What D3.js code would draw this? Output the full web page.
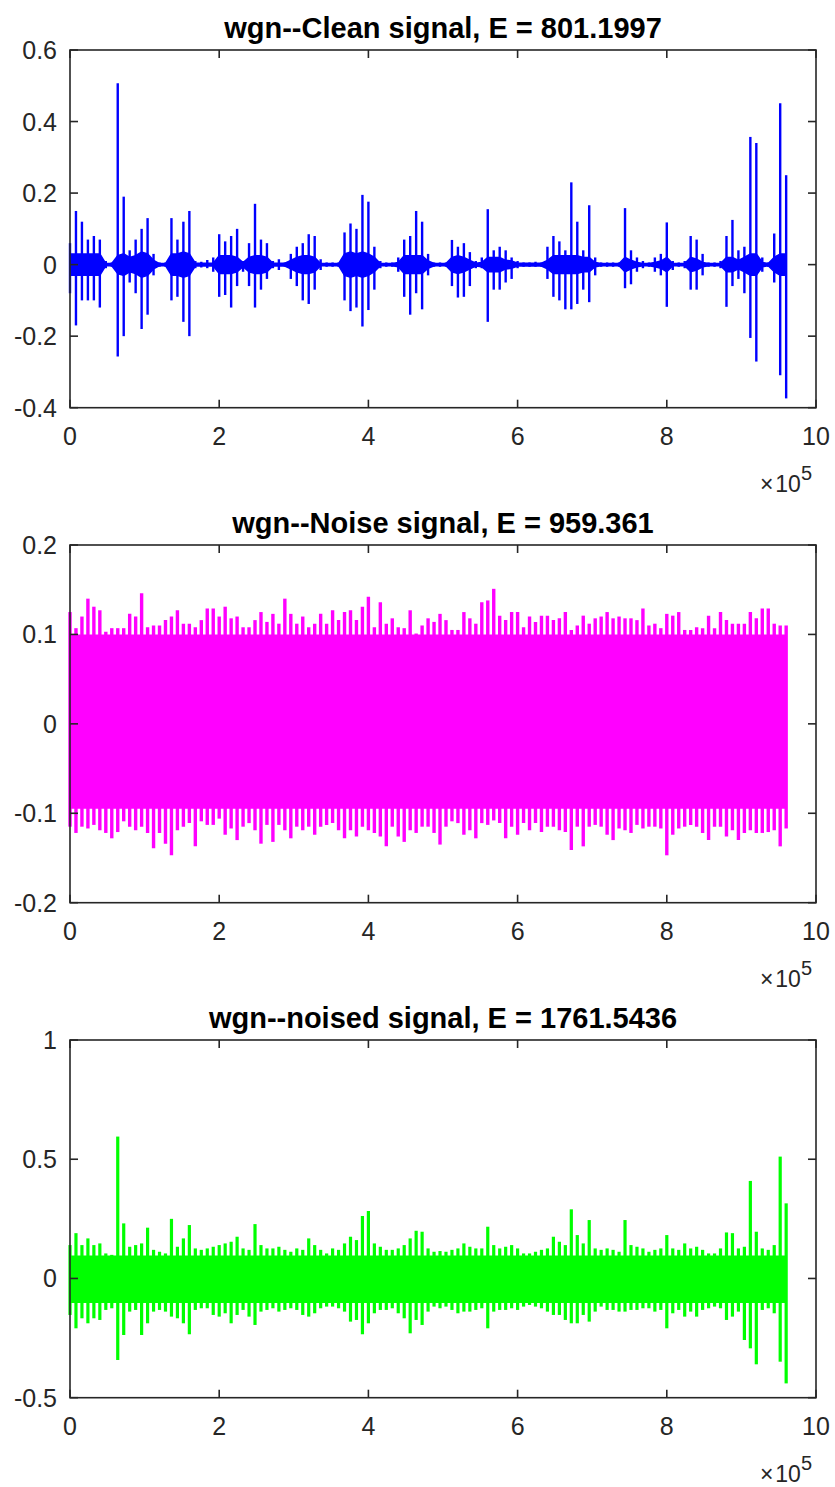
<!DOCTYPE html>
<html>
<head>
<meta charset="utf-8">
<script src="https://cdn.jsdelivr.net/npm/d3@7"></script>
<style>
  body { margin: 0; background: #fff; }
  svg { display: block; font-family: "Liberation Sans", Arial, Helvetica, sans-serif; }
</style>
</head>
<body>
<svg width="835" height="1487"></svg>
<script>
const width = 835, height = 1487;
const svg = d3.select("svg");

// samples between envelope points (read every ~6 px of the picture)
const sampleStep = 8000;
const xTicks = [0, 2, 4, 6, 8, 10];   // x 10^5

// clean signal: peak envelope and dense core half-amplitude
const cleanHi = [
  .06,.15,.12,.07,.08,.07,.01,.006,.507,.19,
  .04,.07,.10,.13,.03,.006,.006,.13,.07,.12,
  .15,.01,.008,.013,.02,.085,.065,.08,.10,.01,
  .06,.17,.07,.06,.01,.015,.006,.03,.05,.06,
  .085,.08,.015,.006,.006,.006,.09,.115,.10,.195,
  .176,.05,.01,.006,.006,.02,.07,.08,.15,.12,
  .03,.006,.006,.006,.069,.05,.06,.035,.01,.02,
  .155,.04,.05,.04,.02,.01,.006,.006,.008,.006,
  .05,.08,.065,.04,.23,.12,.04,.166,.02,.006,
  .006,.006,.006,.158,.04,.02,.01,.006,.02,.03,
  .118,.01,.006,.01,.08,.07,.03,.006,.006,.01,
  .08,.125,.04,.05,.357,.34,.02,.006,.087,.451,
  .25
];
const cleanLo = [
  -.08,-.17,-.10,-.10,-.10,-.12,-.01,-.006,-.257,-.20,
  -.05,-.08,-.18,-.14,-.03,-.006,-.006,-.10,-.09,-.16,
  -.20,-.01,-.008,-.01,-.02,-.09,-.085,-.12,-.06,-.02,
  -.06,-.12,-.07,-.04,-.01,-.015,-.006,-.04,-.06,-.10,
  -.11,-.07,-.015,-.006,-.006,-.006,-.10,-.13,-.12,-.173,
  -.127,-.07,-.01,-.006,-.006,-.02,-.09,-.14,-.08,-.125,
  -.03,-.006,-.006,-.006,-.06,-.092,-.09,-.06,-.01,-.01,
  -.16,-.07,-.07,-.05,-.04,-.01,-.006,-.006,-.006,-.006,
  -.04,-.09,-.10,-.125,-.125,-.11,-.07,-.105,-.03,-.006,
  -.006,-.006,-.006,-.066,-.055,-.02,-.01,-.006,-.02,-.03,
  -.118,-.015,-.006,-.01,-.07,-.07,-.03,-.006,-.006,-.01,
  -.118,-.06,-.04,-.08,-.205,-.271,-.02,-.006,-.05,-.309,
  -.374
];
const cleanCore = [
  .03,.03,.03,.03,.03,.03,.003,.003,.025,.03,
  .02,.025,.035,.03,.012,.003,.003,.03,.03,.035,
  .03,.004,.004,.004,.004,.025,.025,.025,.02,.006,
  .02,.025,.025,.02,.004,.004,.004,.012,.02,.025,
  .025,.02,.003,.003,.003,.003,.03,.035,.03,.035,
  .03,.02,.003,.003,.003,.006,.025,.025,.025,.025,
  .01,.003,.003,.003,.02,.025,.02,.012,.004,.006,
  .02,.02,.02,.012,.01,.004,.004,.004,.004,.004,
  .012,.025,.025,.025,.025,.025,.02,.02,.006,.003,
  .003,.003,.003,.02,.012,.006,.003,.003,.006,.01,
  .02,.003,.003,.003,.02,.015,.006,.003,.003,.003,
  .02,.02,.012,.02,.03,.03,.006,.003,.02,.03,
  .03
];

// white gaussian noise
const noiseHi = [
  .125,.107,.12,.14,.131,.127,.103,.107,.107,.107,
  .123,.12,.146,.108,.11,.11,.116,.12,.127,.112,
  .112,.108,.116,.129,.129,.12,.131,.118,.12,.108,
  .108,.116,.125,.114,.123,.112,.14,.123,.112,.12,
  .108,.112,.123,.112,.127,.116,.125,.127,.116,.131,
  .142,.108,.136,.112,.118,.108,.107,.127,.101,.11,
  .118,.114,.123,.116,.105,.105,.125,.118,.112,.136,
  .138,.151,.121,.116,.125,.125,.108,.12,.114,.121,
  .121,.116,.118,.125,.105,.11,.121,.112,.118,.12,
  .125,.118,.12,.118,.118,.116,.129,.11,.112,.107,
  .123,.121,.125,.105,.105,.108,.107,.121,.107,.125,
  .116,.112,.112,.112,.125,.118,.129,.129,.112,.11,
  .11
];
const noiseLo = [
  -.115,-.122,-.115,-.117,-.113,-.119,-.122,-.128,-.121,-.109,
  -.115,-.119,-.115,-.122,-.139,-.122,-.134,-.147,-.119,-.115,
  -.111,-.137,-.109,-.113,-.113,-.106,-.124,-.117,-.13,-.115,
  -.111,-.119,-.134,-.113,-.132,-.113,-.119,-.128,-.115,-.119,
  -.115,-.124,-.115,-.113,-.111,-.119,-.128,-.119,-.126,-.115,
  -.119,-.122,-.126,-.137,-.115,-.126,-.132,-.119,-.122,-.115,
  -.115,-.122,-.135,-.115,-.109,-.111,-.124,-.119,-.128,-.111,
  -.113,-.108,-.111,-.128,-.115,-.124,-.111,-.119,-.111,-.121,
  -.115,-.115,-.119,-.121,-.141,-.115,-.137,-.115,-.113,-.115,
  -.124,-.13,-.117,-.119,-.122,-.113,-.117,-.115,-.115,-.117,
  -.147,-.124,-.117,-.115,-.113,-.115,-.122,-.13,-.115,-.115,
  -.126,-.119,-.13,-.122,-.119,-.122,-.122,-.121,-.119,-.137,
  -.117
];
const noiseCore = [-0.094, 0.099];

// noised signal = clean + noise
const noisedHi = [
  .14,.19,.14,.168,.14,.147,.105,.099,.595,.231,
  .133,.14,.147,.213,.12,.112,.105,.25,.133,.168,
  .224,.126,.12,.126,.133,.14,.147,.154,.175,.126,
  .12,.228,.14,.126,.126,.133,.12,.112,.126,.12,
  .168,.14,.12,.105,.126,.12,.147,.175,.161,.262,
  .283,.147,.133,.12,.12,.126,.14,.168,.2,.196,
  .126,.112,.115,.112,.12,.126,.147,.133,.126,.126,
  .217,.14,.126,.133,.14,.126,.105,.105,.112,.12,
  .126,.175,.154,.14,.29,.182,.147,.245,.126,.12,
  .126,.12,.112,.245,.14,.133,.126,.112,.12,.126,
  .182,.126,.12,.147,.126,.133,.12,.105,.105,.126,
  .193,.19,.126,.133,.409,.196,.126,.12,.14,.511,
  .315
];
const noisedLo = [
  -.153,-.209,-.167,-.188,-.167,-.174,-.132,-.125,-.342,-.237,
  -.139,-.132,-.237,-.188,-.139,-.132,-.139,-.16,-.167,-.188,
  -.234,-.132,-.125,-.125,-.153,-.16,-.146,-.188,-.153,-.132,
  -.16,-.195,-.139,-.132,-.125,-.139,-.132,-.125,-.132,-.153,
  -.16,-.146,-.125,-.118,-.118,-.125,-.139,-.181,-.174,-.234,
  -.188,-.146,-.132,-.132,-.125,-.146,-.167,-.23,-.174,-.195,
  -.139,-.118,-.125,-.118,-.132,-.146,-.139,-.139,-.132,-.125,
  -.209,-.139,-.132,-.132,-.125,-.132,-.118,-.111,-.118,-.125,
  -.139,-.153,-.153,-.174,-.188,-.188,-.153,-.181,-.139,-.118,
  -.132,-.132,-.139,-.139,-.132,-.132,-.125,-.125,-.139,-.132,
  -.209,-.146,-.132,-.16,-.139,-.16,-.132,-.125,-.118,-.125,
  -.174,-.16,-.139,-.258,-.293,-.36,-.132,-.125,-.146,-.349,
  -.44
];
const noisedCore = [-0.1, 0.093];

const panels = [
  { title: "wgn--Clean signal, E = 801.1997", top: 50, domain: [-0.4, 0.6],
    yTicks: [-0.4, -0.2, 0, 0.2, 0.4, 0.6], color: "#0000ff", peakWidth: 2.4,
    hi: cleanHi, lo: cleanLo, coreHi: cleanCore, coreLo: cleanCore.map(v => -v) },
  { title: "wgn--Noise signal, E = 959.361", top: 545, domain: [-0.2, 0.2],
    yTicks: [-0.2, -0.1, 0, 0.1, 0.2], color: "#ff00ff", peakWidth: 3.4,
    hi: noiseHi, lo: noiseLo, coreHi: noiseHi.map(() => noiseCore[1]), coreLo: noiseHi.map(() => noiseCore[0]) },
  { title: "wgn--noised signal, E = 1761.5436", top: 1040, domain: [-0.5, 1],
    yTicks: [-0.5, 0, 0.5, 1], color: "#00ff00", peakWidth: 3.2,
    hi: noisedHi, lo: noisedLo, coreHi: noisedHi.map(() => noisedCore[1]), coreLo: noisedHi.map(() => noisedCore[0]) }
];

const left = 70, right = 816, plotH = 357.7, tickLen = 8;
const axisColor = "#262626";
const fmt = d => d === 0 ? "0" : String(+d.toFixed(1));

svg.append("rect").attr("width", width).attr("height", height).attr("fill", "#fff");

const x = d3.scaleLinear().domain([0, 10e5]).range([left, right]);

panels.forEach(p => {
  const y = d3.scaleLinear().domain(p.domain).range([p.top + plotH, p.top]);
  const g = svg.append("g");
  const idx = d3.range(p.hi.length);

  // dense core of the waveform
  g.append("path")
    .datum(idx)
    .attr("fill", p.color)
    .attr("stroke", p.color)
    .attr("stroke-width", 1.5)
    .attr("d", d3.area()
      .x(i => x(i * sampleStep))
      .y0(i => y(p.coreLo[i]))
      .y1(i => y(p.coreHi[i])));

  // peaks
  g.selectAll("line.peak")
    .data(idx)
    .join("line")
    .attr("class", "peak")
    .attr("x1", i => x(i * sampleStep))
    .attr("x2", i => x(i * sampleStep))
    .attr("y1", i => y(p.lo[i]))
    .attr("y2", i => y(p.hi[i]))
    .attr("stroke", p.color)
    .attr("stroke-width", p.peakWidth);

  // box with inward ticks on all sides
  const ax = svg.append("g").attr("stroke", axisColor).attr("stroke-width", 1.6).attr("fill", "none");
  ax.append("rect").attr("x", left).attr("y", p.top).attr("width", right - left).attr("height", plotH);
  xTicks.forEach(t => {
    const xx = x(t * 1e5);
    ax.append("line").attr("x1", xx).attr("x2", xx).attr("y1", p.top + plotH).attr("y2", p.top + plotH - tickLen);
    ax.append("line").attr("x1", xx).attr("x2", xx).attr("y1", p.top).attr("y2", p.top + tickLen);
  });
  p.yTicks.forEach(t => {
    const yy = y(t);
    ax.append("line").attr("x1", left).attr("x2", left + tickLen).attr("y1", yy).attr("y2", yy);
    ax.append("line").attr("x1", right).attr("x2", right - tickLen).attr("y1", yy).attr("y2", yy);
  });

  const txt = svg.append("g").attr("fill", axisColor).attr("font-size", 25);
  txt.selectAll("text.xt")
    .data(xTicks)
    .join("text")
    .attr("class", "xt")
    .attr("x", d => x(d * 1e5))
    .attr("y", p.top + plotH + 37)
    .attr("text-anchor", "middle")
    .text(d => d);
  txt.selectAll("text.yt")
    .data(p.yTicks)
    .join("text")
    .attr("class", "yt")
    .attr("x", left - 13)
    .attr("y", d => y(d) + 9)
    .attr("text-anchor", "end")
    .text(fmt);

  // exponent label
  const ex = txt.append("text")
    .attr("x", 812)
    .attr("y", p.top + plotH + 84)
    .attr("text-anchor", "end")
    .style("font-size", "23px");
  ex.append("tspan").text("\u00d7\u200a10");
  ex.append("tspan").style("font-size", "20px").attr("dy", -12).text("5");

  svg.append("text")
    .attr("x", (left + right) / 2)
    .attr("y", p.top - 12.5)
    .attr("text-anchor", "middle")
    .attr("font-size", 29)
    .attr("font-weight", "bold")
    .attr("fill", "#000")
    .text(p.title);
});
</script>
</body>
</html>
